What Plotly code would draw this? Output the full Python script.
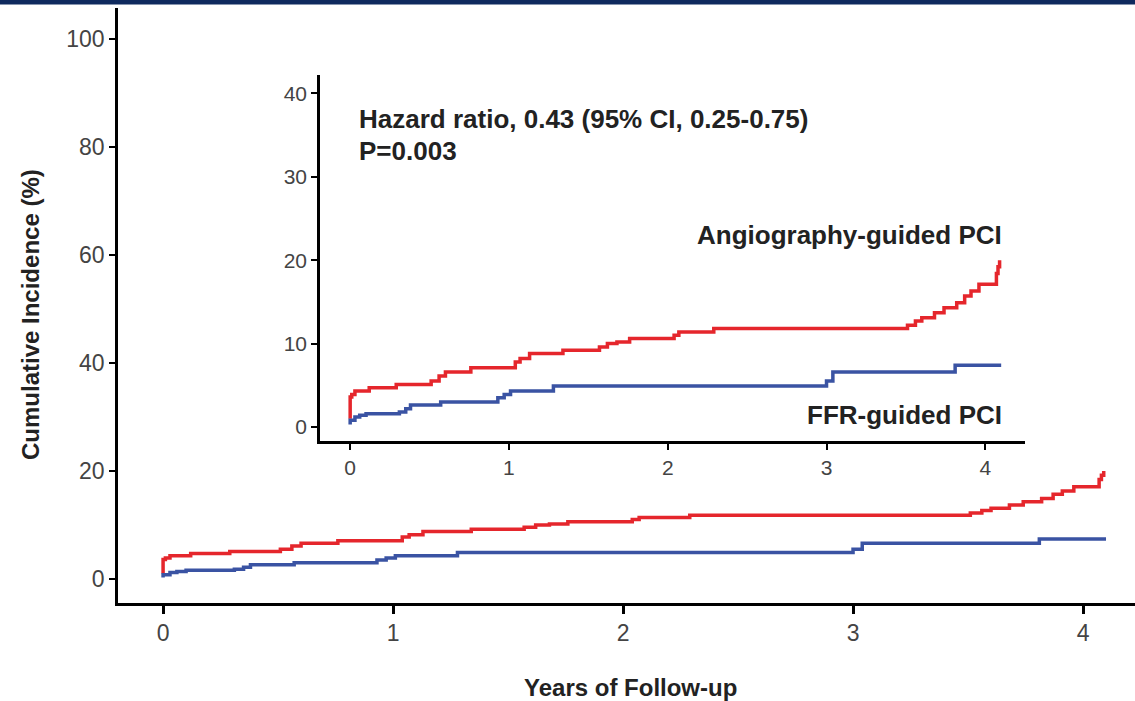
import plotly.graph_objects as go

# ---- data ----
angio_t = [0, 0, 0.01, 0.03, 0.12, 0.29, 0.51, 0.56, 0.60, 0.76, 1.04, 1.07, 1.13, 1.34,
           1.57, 1.62, 1.68, 1.76, 2.04, 2.07, 2.29, 3.51, 3.56, 3.60, 3.68, 3.74, 3.82,
           3.87, 3.91, 3.96, 4.07, 4.08, 4.09]
angio_v = [1.0, 3.6, 3.9, 4.3, 4.7, 5.1, 5.5, 6.1, 6.6, 7.1, 7.8, 8.2, 8.8, 9.2,
           9.6, 10.0, 10.2, 10.6, 11.0, 11.4, 11.8, 12.2, 12.7, 13.1, 13.7, 14.3, 14.9,
           15.7, 16.3, 17.1, 18.4, 19.2, 20.0]

ffr_t = [0, 0, 0.03, 0.06, 0.10, 0.31, 0.35, 0.38, 0.57, 0.93, 0.97, 1.01, 1.28,
         3.00, 3.04, 3.81, 4.10]
ffr_v = [0.3, 0.8, 1.2, 1.4, 1.6, 1.8, 2.2, 2.65, 3.0, 3.5, 3.9, 4.3, 4.9,
         5.5, 6.6, 7.4, 7.4]

main_x_ticks = [0, 1, 2, 3, 4]
main_y_ticks = [0, 20, 40, 60, 80, 100]
inset_x_ticks = [0, 1, 2, 3, 4]
inset_y_ticks = [0, 10, 20, 30, 40]

RED = "#e5262c"
BLUE = "#3a53a3"
TICK = "#444444"
FONT = "Liberation Sans, Arial, sans-serif"
W, H = 1135, 701

fig = go.Figure()

for xa, ya, lw in [("x", "y", 3.5), ("x2", "y2", 3.5)]:
    fig.add_trace(go.Scatter(x=angio_t, y=angio_v, mode="lines", line=dict(color=RED, width=lw, shape="hv"),
                             xaxis=xa, yaxis=ya, showlegend=False, hoverinfo="skip"))
    fig.add_trace(go.Scatter(x=ffr_t, y=ffr_v, mode="lines", line=dict(color=BLUE, width=lw, shape="hv"),
                             xaxis=xa, yaxis=ya, showlegend=False, hoverinfo="skip"))

def px_x(p):
    return p / W

def px_y(p):
    return (H - p) / H

axis_common = dict(showgrid=False, zeroline=False, showline=True, linecolor="black",
                   ticks="outside", tickcolor="black")

fig.update_layout(
    width=W, height=H,
    margin=dict(l=0, r=0, t=0, b=0),
    paper_bgcolor="white", plot_bgcolor="rgba(0,0,0,0)",
    font=dict(family=FONT, color=TICK),
    xaxis=dict(domain=[px_x(118), 1.0], range=[-0.196, 4.226], anchor="y",
               tickvals=main_x_ticks, ticktext=[str(v) for v in main_x_ticks],
               linewidth=2.5, tickwidth=2.5, ticklen=8,
               tickfont=dict(size=23, color=TICK, family=FONT), **axis_common),
    yaxis=dict(domain=[px_y(603), px_y(8)], range=[-4.44, 105.7], anchor="x",
               tickvals=main_y_ticks, ticktext=[str(v) for v in main_y_ticks],
               linewidth=2.5, tickwidth=2, ticklen=6,
               tickfont=dict(size=23, color=TICK, family=FONT), **axis_common),
    xaxis2=dict(domain=[px_x(320), px_x(1025)], range=[-0.19, 4.25], anchor="y2",
                tickvals=inset_x_ticks, ticktext=[str(v) for v in inset_x_ticks],
                linewidth=2.5, tickwidth=2, ticklen=6,
                tickfont=dict(size=21, color=TICK, family=FONT), **axis_common),
    yaxis2=dict(domain=[px_y(441), px_y(75)], range=[-1.68, 42.2], anchor="x2",
                tickvals=inset_y_ticks, ticktext=[str(v) for v in inset_y_ticks],
                linewidth=2.5, tickwidth=2, ticklen=6,
                tickfont=dict(size=21, color=TICK, family=FONT), **axis_common),
)

# navy band at the top
fig.add_shape(type="rect", xref="paper", yref="paper", x0=0, x1=1, y0=px_y(4.5), y1=1,
              fillcolor="#0f2a5e", line=dict(width=0), layer="above")

ann = [
    dict(text="<b>Hazard ratio, 0.43 (95% CI, 0.25-0.75)</b>", x=px_x(357), y=px_y(119),
         xanchor="left", yanchor="middle", size=26),
    dict(text="<b>P=0.003</b>", x=px_x(357), y=px_y(151), xanchor="left", yanchor="middle", size=26),
    dict(text="<b>Angiography-guided PCI</b>", x=px_x(1004), y=px_y(235),
         xanchor="right", yanchor="middle", size=26),
    dict(text="<b>FFR-guided PCI</b>", x=px_x(1004), y=px_y(415),
         xanchor="right", yanchor="middle", size=26),
    dict(text="<b>Years of Follow-up</b>", x=px_x(630), y=px_y(687),
         xanchor="center", yanchor="middle", size=24),
]
for a in ann:
    fig.add_annotation(text=a["text"], x=a["x"], y=a["y"], xref="paper", yref="paper",
                       xanchor=a["xanchor"], yanchor=a["yanchor"], showarrow=False,
                       font=dict(size=a["size"], color="#222222", family=FONT))

fig.add_annotation(text="<b>Cumulative Incidence (%)</b>", x=px_x(30), y=px_y(315),
                   xref="paper", yref="paper", xanchor="center", yanchor="middle",
                   textangle=-90, showarrow=False,
                   font=dict(size=24, color="#222222", family=FONT))

fig.write_html("out.html", config={"displayModeBar": False},
               post_script="document.body.style.margin='0';document.body.style.overflow='hidden';")
